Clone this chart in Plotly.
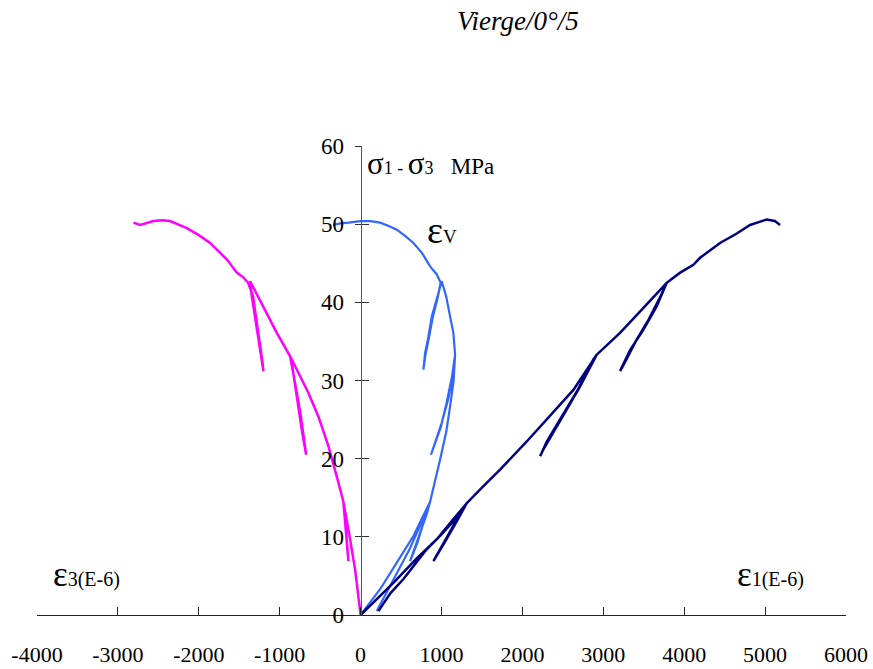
import plotly.graph_objects as go

# ---------------- data ----------------
# axial strain eps1 (E-6) vs deviatoric stress (MPa)
eps1_x = [0, 200, 405, 700, 942, 1150, 1312,
          1200, 1000, 800, 530, 370, 220,
          370, 530, 800, 1000, 1200, 1312,
          1230, 1080, 900,
          1050, 1200, 1312,
          1500, 1724, 2054, 2383, 2630, 2919,
          2877, 2684, 2466, 2301, 2219,
          2260, 2350, 2500, 2700, 2919,
          3207, 3496, 3784,
          3661, 3496, 3331, 3207,
          3260, 3400, 3560, 3700, 3784,
          3950, 4113, 4196, 4443, 4650, 4814, 4930, 5020, 5120, 5185]
eps1_y = [0, 2.0, 4.1, 7.3, 9.7, 12.3, 14.3,
          12.6, 10.3, 8.2, 4.6, 2.8, 0.5,
          2.8, 4.6, 8.2, 10.3, 12.6, 14.3,
          13.0, 10.2, 6.9,
          9.5, 12.2, 14.3,
          16.3, 18.6, 22.2, 25.9, 28.8, 33.3,
          32.7, 28.8, 25.0, 22.2, 20.3,
          21.2, 22.8, 25.5, 29.0, 33.3,
          36.1, 39.3, 42.5,
          39.5, 36.5, 33.9, 31.2,
          32.2, 35.0, 37.8, 40.6, 42.5,
          43.8, 44.8, 45.7, 47.6, 48.8, 49.9, 50.3, 50.6, 50.4, 49.9]

# volumetric strain epsV
epsv_x = [0, 241, 447, 653, 859,
          760, 600, 450, 320, 200,
          320, 450, 600, 760, 859,
          820, 720, 612,
          700, 800, 859,
          983, 1060, 1106, 1150, 1168,
          1130, 1060, 990, 920, 870,
          900, 1000, 1080, 1140, 1168,
          1160, 1147, 1106, 1057, 1003,
          942, 880, 838, 797, 776,
          800, 845, 890, 950, 990,
          940, 880, 859, 760, 653, 550, 447, 341, 241, 120, 0, -150, -253, -340]
epsv_y = [0, 3.3, 6.7, 10.1, 14.5,
          12.0, 8.3, 5.3, 2.8, 0.5,
          2.8, 5.3, 8.3, 12.0, 14.5,
          13.0, 10.0, 6.9,
          9.2, 12.5, 14.5,
          19.9, 23.5, 26.7, 30.0, 33.3,
          30.5, 27.0, 24.0, 22.0, 20.5,
          21.5, 24.5, 27.5, 30.5, 33.3,
          35.0, 36.1, 38.2, 40.8, 42.7,
          40.3, 38.2, 35.6, 33.5, 31.4,
          33.2, 35.5, 38.0, 40.5, 42.5,
          43.6, 44.3, 44.6, 46.3, 47.6, 48.5, 49.3, 49.8, 50.2, 50.4, 50.4, 50.2, 50.1, 49.9]

# lateral strain eps3
eps3_x = [0, -30, -68, -130, -213,
          -190, -170, -151,
          -165, -190, -213,
          -294, -398, -522, -645, -760, -871,
          -840, -800, -769, -727, -673,
          -700, -740, -790, -840, -871,
          -1036, -1201, -1366,
          -1345, -1304, -1263, -1221, -1201,
          -1215, -1250, -1290, -1330, -1390,
          -1450, -1530, -1654, -1860, -2000, -2148, -2355, -2450, -2561, -2725, -2808]
eps3_y = [0, 2.5, 5.8, 9.7, 14.5,
          12.0, 9.5, 6.9,
          9.0, 12.0, 14.5,
          17.7, 21.6, 25.4, 28.4, 30.8, 33.1,
          31.5, 28.5, 26.7, 23.7, 20.5,
          22.5, 25.5, 28.5, 31.5, 33.1,
          36.1, 39.5, 42.7,
          40.8, 38.2, 35.2, 32.7, 31.2,
          32.5, 35.0, 38.0, 40.8, 42.5,
          43.2, 43.8, 45.5, 47.6, 48.6, 49.5, 50.4, 50.5, 50.4, 49.9, 50.2]

x_ticks = [-4000, -3000, -2000, -1000, 0, 1000, 2000, 3000, 4000, 5000, 6000]
x_tick_labels = ["-4000", "-3000", "-2000", "-1000", "0", "1000", "2000",
                 "3000", "4000", "5000", "6000"]
y_ticks = [0, 10, 20, 30, 40, 50, 60]
y_tick_labels = ["0", "10", "20", "30", "40", "50", "60"]

title_text = "Vierge/0°/5"

# ---------------- figure ----------------
SERIF = "Liberation Serif, Times New Roman, serif"

fig = go.Figure()
fig.add_trace(go.Scatter(x=eps3_x, y=eps3_y, mode="lines",
                         line=dict(color="#FF00FF", width=2.5), cliponaxis=False))
fig.add_trace(go.Scatter(x=epsv_x, y=epsv_y, mode="lines",
                         line=dict(color="#3366FF", width=2.2), cliponaxis=False))
fig.add_trace(go.Scatter(x=eps1_x, y=eps1_y, mode="lines",
                         line=dict(color="#000080", width=2.5), cliponaxis=False))
# invisible trace on overlaying axis so it is drawn
fig.add_trace(go.Scatter(x=[0], y=[0], yaxis="y2", mode="markers",
                         marker=dict(size=0.1, color="rgba(0,0,0,0)"), hoverinfo="skip"))

x_pos = (0 - x_ticks[0]) / (x_ticks[-1] - x_ticks[0])

fig.update_layout(
    width=873, height=669,
    margin=dict(l=37, r=27, t=146, b=53.5, autoexpand=False),
    paper_bgcolor="white", plot_bgcolor="white",
    showlegend=False,
    font=dict(family=SERIF, size=23, color="black"),
    xaxis=dict(range=[x_ticks[0], x_ticks[-1]], domain=[0, 1], automargin=False,
               tickmode="array", tickvals=x_ticks, ticktext=x_tick_labels,
               ticks="inside", ticklen=8, tickcolor="#222", tickwidth=1,
               showline=True, linecolor="#222", linewidth=1,
               showgrid=False, zeroline=False,
               ticklabelstandoff=20,
               tickfont=dict(family=SERIF, size=22, color="black")),
    yaxis=dict(range=[y_ticks[0], y_ticks[-1]], anchor="free", position=x_pos,
               automargin=False,
               tickmode="array", tickvals=y_ticks, ticktext=y_tick_labels,
               ticks="outside", ticklen=6, tickcolor="#333", tickwidth=1,
               showline=True, linecolor="#555", linewidth=1,
               showgrid=False, zeroline=False,
               ticklabelstandoff=6,
               tickfont=dict(family=SERIF, size=23, color="black")),
    yaxis2=dict(range=[y_ticks[0], y_ticks[-1]], overlaying="y", anchor="free",
                position=x_pos, side="left", automargin=False,
                tickmode="array", tickvals=y_ticks,
                ticks="inside", ticklen=7, tickcolor="#333", tickwidth=1,
                showticklabels=False, showline=False, showgrid=False, zeroline=False),
)

big = 'font-size:31px'
small = 'font-size:18px'
fig.add_annotation(
    x=60, y=57.8, xref="x", yref="y", xanchor="left", yanchor="middle", showarrow=False,
    text=(f'<span style="{big}">σ</span><span style="{small}">1 - </span>'
          f'<span style="{big}">σ</span><span style="{small}">3</span>'
          '\u00a0\u00a0\u00a0MPa'),
    font=dict(family=SERIF, size=23, color="black"))
fig.add_annotation(
    x=800, y=49.2, xref="x", yref="y", xanchor="left", yanchor="middle", showarrow=False,
    text=f'<span style="font-size:38px">ε</span><span style="font-size:19px">V</span>',
    font=dict(family=SERIF, size=23, color="black"))
fig.add_annotation(
    x=-3830, y=5.2, xref="x", yref="y", xanchor="left", yanchor="middle", showarrow=False,
    text=f'<span style="font-size:35px">ε</span><span style="font-size:20px">3(E-6)</span>',
    font=dict(family=SERIF, size=23, color="black"))
fig.add_annotation(
    x=4630, y=5.2, xref="x", yref="y", xanchor="left", yanchor="middle", showarrow=False,
    text=f'<span style="font-size:35px">ε</span><span style="font-size:20px">1(E-6)</span>',
    font=dict(family=SERIF, size=23, color="black"))
fig.add_annotation(
    x=0.5946, y=1.266, xref="paper", yref="paper", xanchor="center", yanchor="middle",
    showarrow=False,
    text=f"<i>{title_text}</i>",
    font=dict(family=SERIF, size=27, color="black"))

fig.write_html("out.html")
